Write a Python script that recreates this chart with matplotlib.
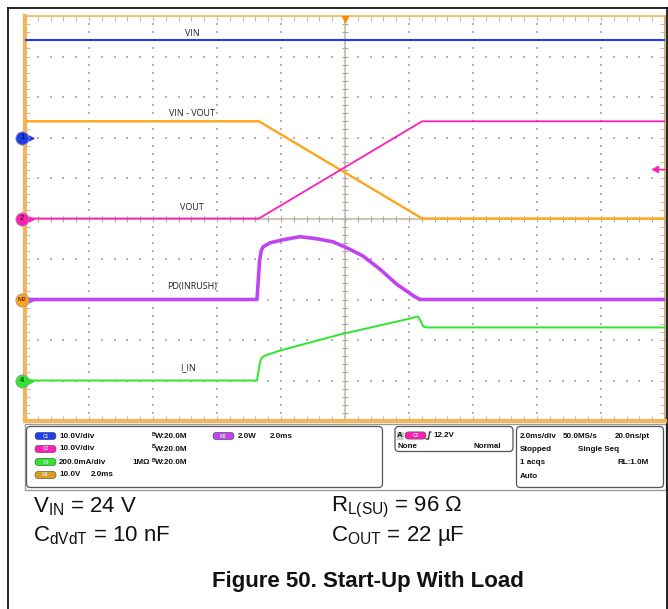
import numpy as np
import matplotlib
matplotlib.use('Agg')
import matplotlib.pyplot as plt
from matplotlib.patches import FancyBboxPatch, Rectangle

plt.rcParams['font.family'] = ['Liberation Sans', 'DejaVu Sans']
plt.rcParams['mathtext.fontset'] = 'custom'
plt.rcParams['mathtext.rm'] = 'Liberation Sans'

# ---- traces (time in ms, 2 ms/div, trigger at 0) ----
vin_t = [-10, 10]
vin_v = [24, 24]

vout_t = [-10, -2.69, 2.41, 10]
vout_v = [0, 0, 24, 24]

vdiff_t = [-10, -2.69, 2.41, 10]
vdiff_v = [24, 24, 0, 0]

pd_t = [-10, -2.75, -2.67, -2.62, -2.56, -2.34, -1.94, -1.41, -0.88, -0.38,
        0.06, 0.56, 1.09, 1.62, 2.12, 2.34, 10]
pd_w = [0, 0, 1.9, 2.4, 2.6, 2.8, 2.95, 3.1, 3.0, 2.85,
        2.55, 2.15, 1.5, 0.75, 0.2, 0, 0]

iin_t = [-10, -2.75, -2.72, -2.67, -2.62, -2.5, -2.03, -0.16, 2.03, 2.28,
         2.375, 2.44, 2.56, 10]
iin_ma = [0, 0, 30, 79, 109, 123, 148, 227, 306, 316,
          291, 267, 262, 262]

# channel: (scale per div, ground position in div)
ch_scale = {'C1': (10.0, 2), 'C2': (10.0, 0), 'M1': (10.0, 0),
            'M2': (2.0, -2), 'C4': (200.0, -4)}
trig_level = 12.2  # V on C2

BLUE = '#1f3cf0'
ORANGE = '#ffa51a'
MAGENTA = '#ff1fb4'
PURPLE = '#c045f0'
GREEN = '#2ee62e'
EDGE = '#f5b45a'

W, H = 668, 609
fig = plt.figure(figsize=(W / 100, H / 100), dpi=100)

# background layer in pixel coordinates
ax0 = fig.add_axes([0, 0, 1, 1], zorder=0)
ax0.set_xlim(0, W)
ax0.set_ylim(H, 0)
ax0.axis('off')

# outer frame
ax0.plot([8, 8], [8, H + 2], color='black', lw=1.2)
ax0.plot([8, W + 2], [8, 8], color='black', lw=1.2)
ax0.plot([666.5, 666.5], [8, H + 2], color='black', lw=1.2)

# scope graticule
ax = fig.add_axes([25 / W, 1 - 421 / H, 640 / W, 405 / H], zorder=1)
ax.set_xlim(-10, 10)
ax.set_ylim(-5, 5)
ax.set_xticks(np.arange(-10, 10.01, 2))
ax.set_yticks(np.arange(-5, 5.01, 1))
ax.set_xticks(np.arange(-10, 10.01, 0.4), minor=True)
ax.set_yticks(np.arange(-5, 5.01, 0.2), minor=True)
ax.tick_params(which='both', direction='in', length=3.5, width=0.7, color='#bababa',
               top=True, right=True, labelleft=False, labelbottom=False)
for side, lw, c in [('left', 3, EDGE), ('bottom', 3, EDGE), ('top', 1.2, EDGE),
                    ('right', 1.2, '#c9a268')]:
    ax.spines[side].set_linewidth(lw)
    ax.spines[side].set_color(c)

# dotted grid
for gx in [-8, -6, -4, -2, 2, 4, 6, 8]:
    ys = np.arange(-5, 5.01, 0.2)
    ax.scatter(np.full_like(ys, gx), ys, s=1.6, color='#b4b4b4', marker='s', lw=0)
for gy in [-4, -3, -2, -1, 1, 2, 3, 4]:
    xs = np.arange(-10, 10.01, 0.4)
    ax.scatter(xs, np.full_like(xs, gy), s=1.6, color='#b4b4b4', marker='s', lw=0)

# centre crosshair with ticks
ax.axvline(0, color='#cdc5b8', lw=1.5, zorder=1)
ax.axhline(0, color='#cdc5b8', lw=1.5, zorder=1)
xs = np.arange(-10, 10.01, 0.4)
ys = np.arange(-5, 5.01, 0.2)
ax.plot(xs, np.zeros_like(xs), ls='none', marker='|', ms=5, mew=0.8, color='#b0a898', zorder=1)
ax.plot(np.zeros_like(ys), ys, ls='none', marker='_', ms=5, mew=0.8, color='#b0a898', zorder=1)


def to_div(vals, ch):
    scale, off = ch_scale[ch]
    return np.array(vals, dtype=float) / scale + off


ax.plot(vin_t, to_div(vin_v, 'C1'), color=BLUE, lw=1.5, zorder=3)
ax.plot(vdiff_t, to_div(vdiff_v, 'M1'), color=ORANGE, lw=1.7, zorder=3)
ax.plot(vout_t, to_div(vout_v, 'C2'), color=MAGENTA, lw=1.3, zorder=4)
ax.plot(pd_t, to_div(pd_w, 'M2'), color=PURPLE, lw=2.6, zorder=3)
ax.plot(iin_t, to_div(iin_ma, 'C4'), color=GREEN, lw=1.4, zorder=3)

# trace labels
lab_kw = dict(ha='center', va='center', fontsize=6.5, family=['Open Sans', 'DejaVu Sans'],
              color='#222222', zorder=5)
ax.text(-4.78, 4.58, 'VIN', **lab_kw)
ax.text(-4.78, 2.60, 'VIN - VOUT', **lab_kw)
ax.text(-4.78, 0.26, 'VOUT', **lab_kw)
ax.text(-4.78, -1.69, 'PD(INRUSH)', **lab_kw)
ax.text(-4.90, -3.67, 'I_IN', **lab_kw)

# ground markers on the left
for ch, lab, fc, tc in [('C1', '1', BLUE, 'black'), ('C2', '2', MAGENTA, 'black'),
                        ('M2', 'M2', ORANGE, '#3a1050'), ('C4', '4', GREEN, 'black')]:
    y0 = ch_scale[ch][1]
    arrow_c = PURPLE if ch == 'M2' else fc
    ax.plot([-10.0, -9.8], [y0, y0], color=arrow_c, lw=1, clip_on=False, zorder=6)
    ax.plot([-9.8], [y0], marker='>', ms=3.5, color=arrow_c, clip_on=False, zorder=6)
    ax.plot([-10.09], [y0], marker='o', ms=9.5, mfc=fc, mec='#999999', mew=0.6,
            clip_on=False, zorder=7)
    ax.text(-10.09, y0, lab, ha='center', va='center', fontsize=5.5 if len(lab) == 1 else 4.6,
            color=tc, clip_on=False, zorder=8)

# trigger position / level markers
ax.plot([0], [4.93], marker='v', ms=5, color='#ff8c00', clip_on=False, zorder=6)
ty = trig_level / ch_scale['C2'][0] + ch_scale['C2'][1]
ax.plot([9.69, 10], [ty, ty], color=MAGENTA, lw=1, clip_on=False, zorder=6)
ax.plot([9.69], [ty], marker='<', ms=4, color=MAGENTA, clip_on=False, zorder=6)

# ---- status panel below the graticule ----
ax0.add_patch(Rectangle((24.5, 423.5), 641, 66, fc='white', ec='#9a9a9a', lw=1))
for x, y, w, h in [(26.5, 426.5, 356, 61), (395, 426.5, 118, 25), (516.5, 426.5, 147, 61)]:
    ax0.add_patch(FancyBboxPatch((x, y), w, h, boxstyle='round,pad=0,rounding_size=4',
                                 fc='white', ec='#555555', lw=0.9))


def pill(x, y, label, color):
    ax0.add_patch(FancyBboxPatch((x, y - 3.6), 21, 7.2,
                                 boxstyle='round,pad=0,rounding_size=3.6',
                                 fc=color, ec='#444444', lw=0.4))
    ax0.text(x + 10.5, y, label, ha='center', va='center', fontsize=3.4,
             color='#dddddd', fontweight='bold')


pk = dict(fontsize=5.8, fontweight='bold', va='center', color='#111111')


def bw(x, y):
    ax0.text(x, y - 2, 'B', fontsize=3.8, fontweight='bold', va='center', color='#111111')
    ax0.text(x + 2.8, y + 0.6, 'W:20.0M', **pk)


rows_y = [436, 449, 462, 475]
pill(35, rows_y[0], 'C1', BLUE)
ax0.text(59, rows_y[0], '10.0V/div', **pk)
bw(152, rows_y[0])
pill(213, rows_y[0], 'M2', PURPLE)
ax0.text(238, rows_y[0], '2.0W', **pk)
ax0.text(270, rows_y[0], '2.0ms', **pk)

pill(35, rows_y[1], 'C2', MAGENTA)
ax0.text(59, rows_y[1], '10.0V/div', **pk)
bw(152, rows_y[1])

pill(35, rows_y[2], 'C4', GREEN)
ax0.text(59, rows_y[2], '200.0mA/div', **pk)
ax0.text(132, rows_y[2], '1MΩ', **pk)
bw(152, rows_y[2])

pill(35, rows_y[3], 'M1', '#d9a020')
ax0.text(59, rows_y[3], '10.0V', **pk)
ax0.text(91, rows_y[3], '2.0ms', **pk)

# trigger box
ax0.add_patch(Rectangle((396.5, 431.5), 7, 8, fc='#cfcfcf', ec='none'))
ax0.text(400, 435.5, 'A', ha='center', **pk)
pill(405, 435.5, 'C2', MAGENTA)
ax0.plot([426, 428.5, 429.5, 431], [439, 439, 432, 432], color='#111111', lw=0.8)
ax0.text(433, 435.5, '12.2V', **pk)
ax0.text(398, 447, 'None', **pk)
ax0.text(501, 447, 'Normal', ha='right', **pk)

# acquisition box
ax0.text(520, 436, '2.0ms/div', **pk)
ax0.text(563, 436, '50.0MS/s', **pk)
ax0.text(615, 436, '20.0ns/pt', **pk)
ax0.text(520, 449.5, 'Stopped', **pk)
ax0.text(578, 449.5, 'Single Seq', **pk)
ax0.text(520, 463, '1 acqs', **pk)
ax0.text(618, 463, 'RL:1.0M', **pk)
ax0.text(520, 476.5, 'Auto', **pk)

# ---- conditions and caption ----
ck = dict(fontsize=16, va='center', color='#111111')
ax0.text(33, 507, r'$\mathregular{V_{IN}}$ = 24 V', **ck)
ax0.text(331, 507, r'$\mathregular{R_{L(SU)}}$ = 96 Ω', **ck)
ax0.text(33, 536, r'$\mathregular{C_{dVdT}}$ = 10 nF', **ck)
ax0.text(331, 536, r'$\mathregular{C_{OUT}}$ = 22 µF', **ck)
ax0.text(367.5, 581, 'Figure 50. Start-Up With Load', ha='center', va='center',
         fontsize=16, fontweight='bold', color='#111111')

fig.savefig('out.png', dpi=100)
